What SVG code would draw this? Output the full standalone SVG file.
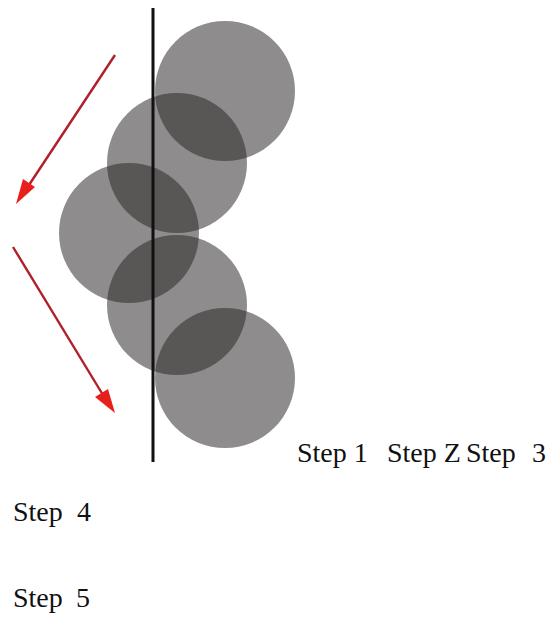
<svg xmlns="http://www.w3.org/2000/svg" width="553" height="618" viewBox="0 0 553 618">
<defs>
<style>
.c{fill:#2a2526;fill-opacity:0.53}
.ar{stroke:#b01f2a;stroke-width:2.4;fill:none}
.t{font-family:"Liberation Serif","Times New Roman",serif;font-size:28px;fill:#111}
</style>
</defs>
<rect width="553" height="618" fill="#fff"/>
<g id="circle1"><circle class="c" cx="225" cy="91" r="70"/></g>
<g id="circle2"><circle class="c" cx="177" cy="163" r="70"/></g>
<g id="circle3"><circle class="c" cx="129" cy="233" r="70"/></g>
<g id="circle4"><circle class="c" cx="177" cy="305" r="70"/></g>
<g id="circle5"><circle class="c" cx="225" cy="378" r="70"/></g>
<g id="axis"><line x1="153" y1="8" x2="153" y2="462" stroke="#111" stroke-width="3"/></g>
<g id="connectors">
<line class="ar" x1="115" y1="55" x2="27" y2="188"/>
<path d="M16,204 L23,179 L35,187 Z" fill="#e8201c"/>
<line class="ar" x1="13" y1="247" x2="103" y2="395"/>
<path d="M115,413 L95,397 L108,389 Z" fill="#e8201c"/>
</g>
<g id="labels">
<text class="t" y="462"><tspan x="297">Step 1</tspan><tspan x="387">Step Z</tspan><tspan x="466">Step</tspan><tspan x="532">3</tspan></text>
<text class="t" y="521"><tspan x="13">Step</tspan><tspan x="77">4</tspan></text>
<text class="t" y="607"><tspan x="13">Step</tspan><tspan x="76">5</tspan></text>
</g>
</svg>
